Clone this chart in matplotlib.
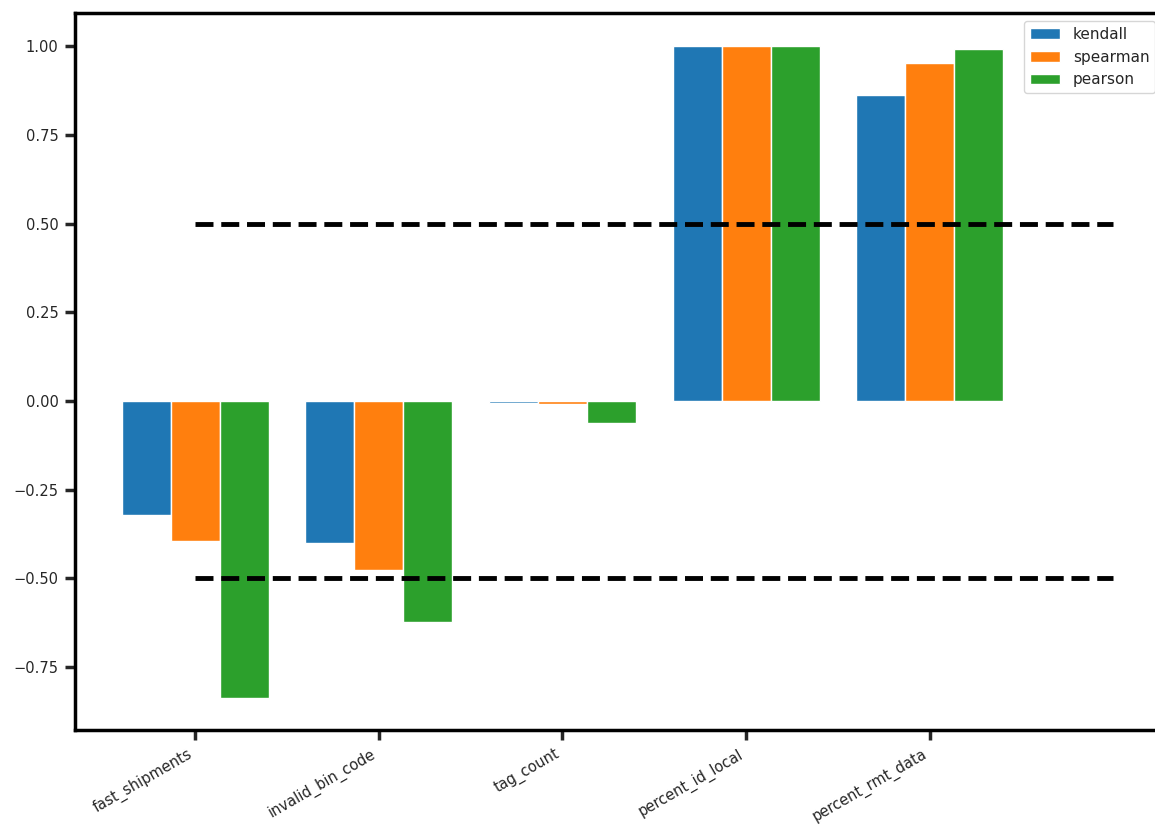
import numpy as np
import matplotlib.pyplot as plt

features = ["fast_shipments", "invalid_bin_code", "tag_count",
            "percent_id_local", "percent_rmt_data"]
kendall = [-0.321, -0.400, -0.006, 1.000, 0.862]
spearman = [-0.394, -0.476, -0.010, 1.000, 0.952]
pearson = [-0.837, -0.623, -0.062, 1.000, 0.992]

plt.rcParams["font.family"] = ["DejaVu Sans"]
plt.rcParams["font.size"] = 10.5
plt.rcParams["text.color"] = "#262626"
plt.rcParams["xtick.color"] = "#262626"
plt.rcParams["ytick.color"] = "#262626"

fig = plt.figure(figsize=(11.55, 8.31), dpi=100)
ax = fig.add_axes([0.065, 0.122, 0.942, 0.862])

x = np.arange(len(features))
w = 0.8 / 3
ax.bar(x - w, kendall, w, color="#1f77b4", edgecolor="white", linewidth=1.0, label="kendall")
ax.bar(x, spearman, w, color="#ff7f0e", edgecolor="white", linewidth=1.0, label="spearman")
ax.bar(x + w, pearson, w, color="#2ca02c", edgecolor="white", linewidth=1.0, label="pearson")

# thresholds for strong correlation
ax.hlines([0.5, -0.5], 0, 5, colors="black", linestyles="--", linewidth=3.5)

ax.set_xlim(-0.653, 5.27)
ax.set_ylim(-0.927, 1.093)
ax.set_yticks([-0.75, -0.5, -0.25, 0, 0.25, 0.5, 0.75, 1.0])
ax.yaxis.set_major_formatter(
    plt.FuncFormatter(lambda v, pos: ("%.2f" % v).replace("-", "\u2212")))
ax.set_xticks(x)
ax.set_xticklabels(features, rotation=30, ha="right")

for s in ax.spines.values():
    s.set_linewidth(2.5)
ax.tick_params(width=2.5, length=7, pad=5)

ax.legend(loc="upper right", fontsize=11, framealpha=0.8)

plt.savefig("out.png")
